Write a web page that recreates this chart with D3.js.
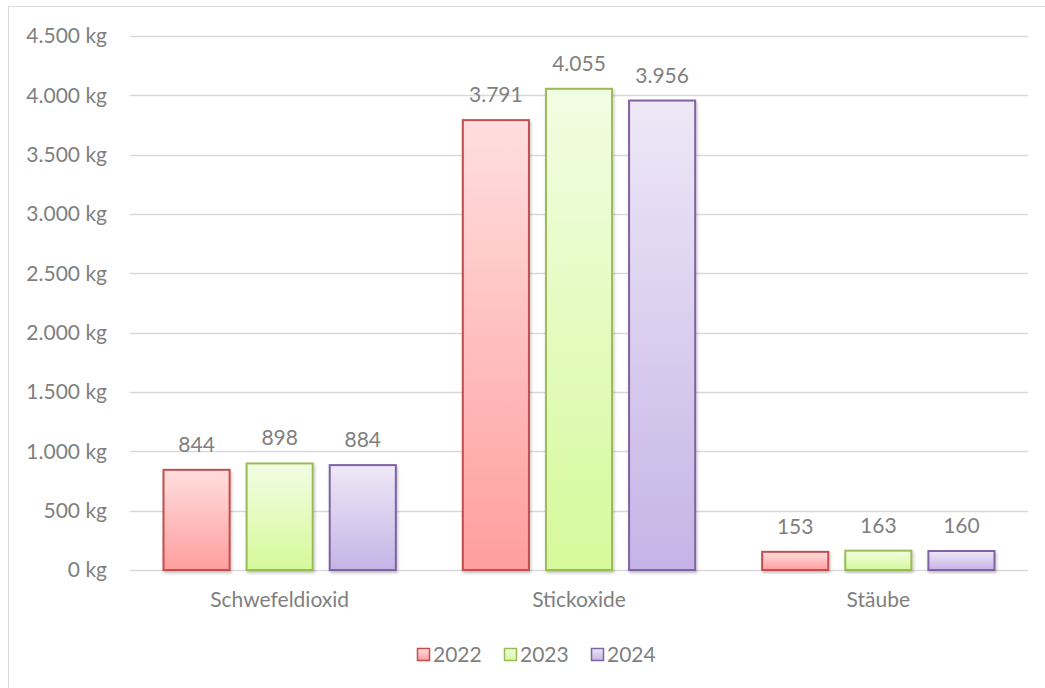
<!DOCTYPE html>
<html>
<head>
<meta charset="utf-8">
<script src="https://cdn.jsdelivr.net/npm/d3@7"></script>
<style>
  body { margin: 0; background: #fff; }
  svg text { font-family: Lato, "Open Sans", sans-serif; fill: #7f7f7f; }
</style>
</head>
<body>
<div id="vis"></div>
<script>
// data
var categories = ["Schwefeldioxid", "Stickoxide", "Stäube"];
var years = ["2022", "2023", "2024"];
var values2022 = [844, 3791, 153];
var values2023 = [898, 4055, 163];
var values2024 = [884, 3956, 160];
var yTicks = [0, 500, 1000, 1500, 2000, 2500, 3000, 3500, 4000, 4500];

var seriesValues = [values2022, values2023, values2024];
var fills = [["#ffdede", "#ff9e9e"], ["#f1fde3", "#d6f99b"], ["#eee8f7", "#c6b3e6"]];
var strokes = ["#c0504d", "#9bbb59", "#8064a2"];

var width = 1045, height = 688;
var margin = {top: 36, right: 17, bottom: 118, left: 130};
var fontSize = "21px";

var svg = d3.select("#vis")
    .append("svg")
    .attr("width", width)
    .attr("height", height);

var defs = svg.append("defs");
years.forEach(function(y, i) {
  var g = defs.append("linearGradient")
      .attr("id", "grad" + i)
      .attr("x1", 0).attr("y1", 0).attr("x2", 0).attr("y2", 1);
  g.append("stop").attr("offset", "0%").attr("stop-color", fills[i][0]);
  g.append("stop").attr("offset", "100%").attr("stop-color", fills[i][1]);
});
var shadow = defs.append("filter").attr("id", "shadow")
    .attr("x", "-10%").attr("y", "-10%").attr("width", "130%").attr("height", "130%");
shadow.append("feDropShadow")
    .attr("dx", 1).attr("dy", 2).attr("stdDeviation", 1.5)
    .attr("flood-color", "#000").attr("flood-opacity", 0.25);

// chart frame
svg.append("rect")
    .attr("x", 8.5).attr("y", 6.5)
    .attr("width", 1100).attr("height", 800)
    .attr("fill", "none")
    .attr("stroke", "#d9d9d9");

var x0 = d3.scaleBand()
    .domain(categories)
    .range([margin.left, width - margin.right])
    .paddingInner(0).paddingOuter(0);

var x1 = d3.scaleBand()
    .domain(years)
    .range([33, x0.bandwidth() - 33])
    .paddingInner(16 / 83);

var y = d3.scaleLinear()
    .domain([0, 4500])
    .range([height - margin.bottom, margin.top]);

// gridlines
svg.append("g")
  .selectAll("line")
  .data(yTicks)
  .enter()
  .append("line")
    .attr("x1", margin.left)
    .attr("x2", width - margin.right)
    .attr("y1", function(d) { return Math.round(y(d)) + 0.5; })
    .attr("y2", function(d) { return Math.round(y(d)) + 0.5; })
    .attr("stroke", "#d9d9d9")
    .attr("stroke-width", 1.3);

// y labels
svg.append("g")
  .selectAll("text")
  .data(yTicks)
  .enter()
  .append("text")
    .attr("x", 107)
    .attr("y", function(d) { return y(d); })
    .attr("dy", "0.35em")
    .attr("text-anchor", "end")
    .style("font-size", fontSize)
    .text(function(d) { return d3.format(",")(d).replace(/,/g, ".") + " kg"; });

// bars
var groups = svg.append("g")
  .selectAll("g")
  .data(categories)
  .enter()
  .append("g")
    .attr("transform", function(d) { return "translate(" + x0(d) + ",0)"; });

function rows(d, ci) {
  return years.map(function(yr, si) { return {year: yr, si: si, v: seriesValues[si][ci]}; });
}

groups.selectAll("rect")
  .data(rows)
  .enter()
  .append("rect")
    .attr("x", function(d) { return x1(d.year) + 0.5; })
    .attr("y", function(d) { return y(d.v); })
    .attr("width", x1.bandwidth() - 1)
    .attr("height", function(d) { return y(0) - y(d.v); })
    .attr("fill", function(d) { return "url(#grad" + d.si + ")"; })
    .attr("stroke", function(d) { return strokes[d.si]; })
    .attr("stroke-width", 2)
    .attr("filter", "url(#shadow)");

groups.selectAll("text.val")
  .data(rows)
  .enter()
  .append("text")
    .attr("class", "val")
    .attr("x", function(d) { return x1(d.year) + x1.bandwidth() / 2; })
    .attr("y", function(d) { return y(d.v) - 18; })
    .attr("text-anchor", "middle")
    .style("font-size", fontSize)
    .text(function(d) { return d3.format(",")(d.v).replace(/,/g, "."); });

// category labels
svg.append("g")
  .selectAll("text")
  .data(categories)
  .enter()
  .append("text")
    .attr("x", function(d) { return x0(d) + x0.bandwidth() / 2; })
    .attr("y", 607)
    .attr("text-anchor", "middle")
    .style("font-size", fontSize)
    .text(function(d) { return d; });

// legend
var legendX = [417, 504, 591];
var legend = svg.append("g")
  .selectAll("g")
  .data(years)
  .enter()
  .append("g")
    .attr("transform", function(d, i) { return "translate(" + legendX[i] + ",648)"; });

legend.append("rect")
    .attr("x", 0.5).attr("y", 0.5)
    .attr("width", 12).attr("height", 12)
    .attr("fill", function(d, i) { return "url(#grad" + i + ")"; })
    .attr("stroke", function(d, i) { return strokes[i]; })
    .attr("stroke-width", 1.5);

legend.append("text")
    .attr("x", 16)
    .attr("y", 6.5)
    .attr("dy", "0.35em")
    .style("font-size", fontSize)
    .text(function(d) { return d; });
</script>
</body>
</html>
